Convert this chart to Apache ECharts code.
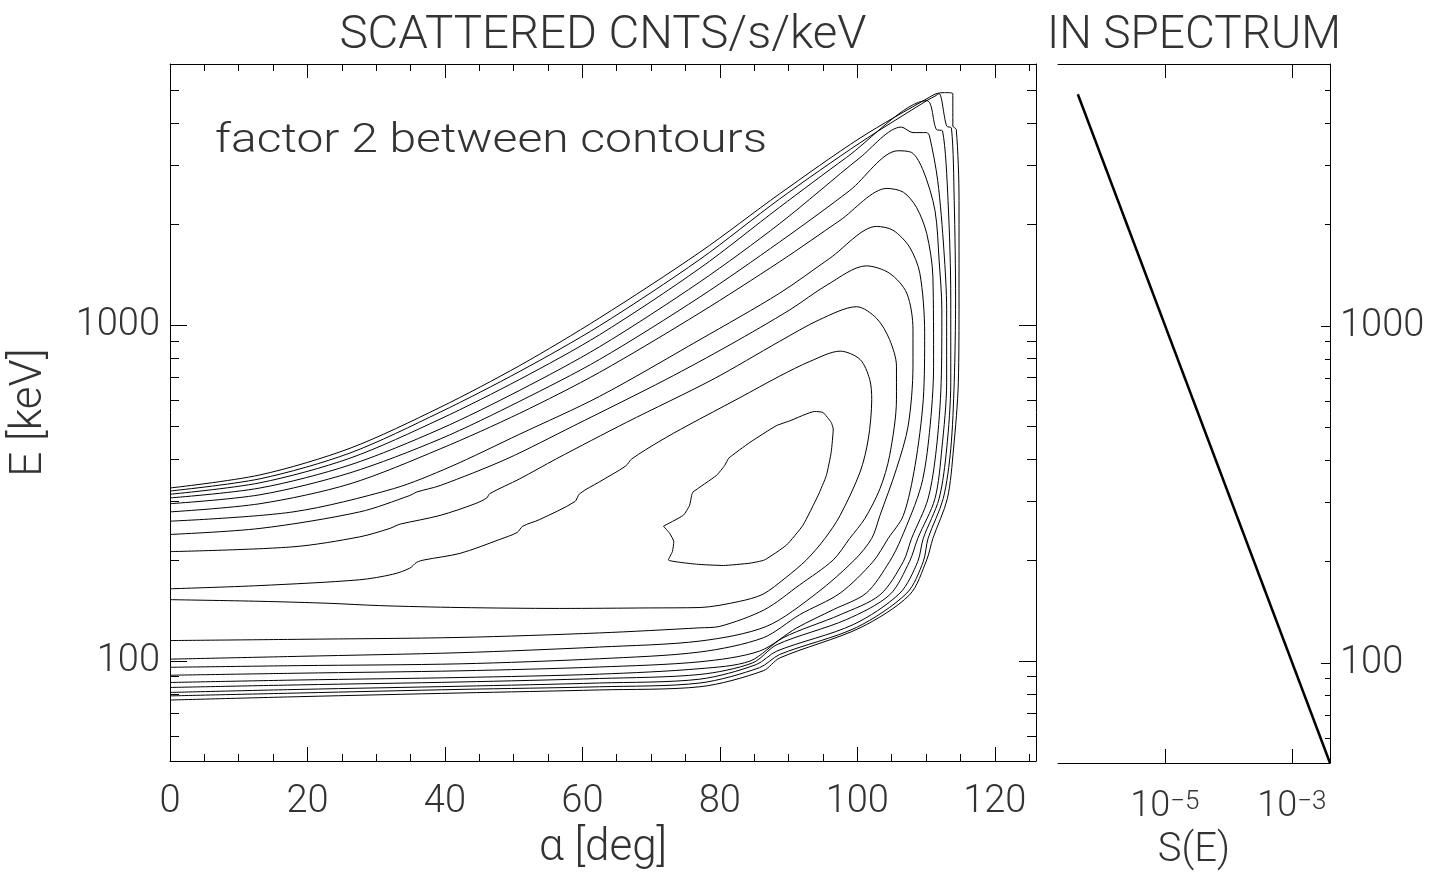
<!DOCTYPE html>
<html>
<head>
<meta charset="utf-8">
<script src="https://cdn.jsdelivr.net/npm/echarts@6/dist/echarts.min.js"></script>
<style>html,body{margin:0;padding:0;background:#fff}#c{width:1449px;height:876px}</style>
</head>
<body>
<div id="c"></div>
<script>
// ---- tick values ----
const alphaTicks = [0, 20, 40, 60, 80, 100, 120];
const alphaMinorTicks = [5,10,15,25,30,35,45,50,55,65,70,75,85,90,95,105,110,115,125];
const eTicks = [100, 1000];
const eMinorTicks = [60,70,80,90,200,300,400,500,600,700,800,900,2000,3000,4000,5000];
const sTicks = [1e-5, 1e-3];

// ---- axis ranges ----
const alphaRange = [0, 126];
const eRange = [50.5, 6000];
const sRange = [2.07e-7, 4.0e-3];

// ---- contours: [alpha (deg), E (keV)] ----
const contour1 = [[71.8,252.6],[74.7,272.3],[75.6,291.4],[75.9,312],[76.1,319.2],[79.5,357.5],[80.7,382.7],[81.3,402.5],[84.4,448.8],[88.2,502.6],[90.2,520],[93.8,554.4],[95.0,550.6],[96.2,514.4],[96.5,491.4],[96.2,419.2],[95.5,357.5],[94.3,312],[92.1,254.4],[89.7,221.9],[86.5,200.4],[84.4,196],[80.5,192.9],[76.6,194.6],[72.5,200.4],[73.1,212.2],[73.3,227.1],[72.7,240.4],[71.8,252.6]];
const contour2 = [[0,164.4],[13.1,168.1],[27.6,174.9],[32.4,181.6],[34.9,189.4],[35.9,197.2],[37.1,200.6],[42.2,209.6],[48.0,230.7],[50.5,241.9],[51.3,252.3],[53.8,264.4],[58.9,298.8],[59.6,315.4],[62.5,342.4],[66.3,381.5],[67.2,400.6],[71.3,452.8],[75.2,502.1],[82.9,609.1],[88.7,706.3],[93.1,781.2],[97.5,838.2],[100.4,792],[101.8,691],[102.1,603],[101.6,459],[100.4,365.8],[97.5,271.9],[95.3,232.3],[92.6,200.4],[89.5,176.9],[86.3,158.5],[82.9,150.9],[77.1,144.6],[69.8,144.2],[56.7,143.7],[42.2,144.6],[30.5,146.5],[23.3,148.8],[13.1,150.9],[0,152.6]];
const contour3 = [[0,212.1],[17.9,219.2],[27.6,234.7],[32.0,248.7],[32.9,253.5],[33.5,256.2],[39.3,271.9],[44.4,294.6],[46.1,306.5],[46.5,315.4],[50.9,349.5],[56.2,400.6],[66.4,514.3],[79.0,691],[88.7,896.5],[94.5,1040],[99.9,1136.7],[102.8,1050],[104.7,907],[105.7,755.9],[105.7,603],[104.7,409.3],[103.3,326.5],[101.1,266.2],[98.9,232.3],[96.5,200.4],[91.6,168.8],[86.5,142.5],[80.0,127.1],[77.1,125.8],[62.5,121.5],[42.2,117.8],[18.9,116.3],[0,115.3]];
const contour4 = [[0,238.6],[13.1,248.7],[27.6,278.5],[34.9,311.6],[35.9,319.2],[39.3,333.6],[49.0,400.6],[58.7,502.1],[72.2,691],[81.5,876.2],[90.2,1113],[95.6,1319.6],[101.3,1504],[104.7,1429],[107.2,1247],[108.1,971],[108.1,755.9],[107.4,502.1],[105.7,374.2],[103.3,271.9],[102.1,232.3],[99.6,200.4],[94.1,159.6],[86.8,127.1],[77.1,114.9],[62.5,110.3],[42.2,106.1],[18.9,103.5],[0,101.5]];
const contour5 = [[0,261.3],[17.9,278.5],[32.5,326.5],[40.7,378.8],[50.9,474.7],[62.5,614.8],[77.1,907],[88.7,1247],[96.0,1584],[102.8,1971],[105.2,1920],[107.6,1711],[109.1,1429],[109.8,951.2],[109.6,603],[108.4,382.3],[106.7,271.9],[104.5,232.3],[102.3,198.2],[97.5,159.6],[91.6,137.6],[86.3,117.5],[77.1,106.6],[62.5,101.8],[42.2,98.3],[18.9,97.1],[0,96.0]];
const contour6 = [[0,278.5],[13.1,294.6],[26.2,337.6],[39.3,428.8],[50.9,547.9],[62.5,724.9],[77.1,1090.3],[88.7,1547],[97.5,2055],[104.3,2557],[106.7,2492],[108.6,2248],[110.1,1877],[111.0,1395],[111.1,755.9],[110.5,480.4],[109.3,333.6],[106.4,232.3],[104.7,198.2],[101.3,159.6],[96.5,142.5],[91.2,125.8],[85.8,107.3],[77.1,99.7],[62.5,96.2],[42.2,93.7],[18.9,92.2],[0,90.9]];
const contour7 = [[0,294.6],[13.1,313.2],[26.2,364],[39.3,459],[50.9,594.8],[62.5,792],[77.1,1215.3],[88.7,1772],[98.9,2521],[105.9,3310],[107.9,3272],[109.6,2888],[111.3,2200],[111.9,1565],[112.3,1113],[112.2,675.5],[111.5,428.8],[110.3,305],[107.9,232.3],[106.7,198.2],[103.3,157.7],[97.5,137.6],[89.2,117.5],[84.4,100.2],[77.1,95.1],[62.5,91.6],[42.2,89.5],[18.9,88.0],[0,86.5]];
const contour8 = [[0,306.5],[13.1,328.1],[26.2,384.3],[39.3,491.4],[50.9,641.1],[62.5,863.8],[77.1,1347.4],[88.7,2009],[100.4,3159],[106.4,3894],[108.1,3749],[110.1,3749],[110.5,3664],[111.7,2698],[112.6,1675],[113.0,1113],[113.0,676.9],[112.3,428.8],[111.3,305],[108.8,232.3],[107.6,198.2],[104.7,157.7],[98.4,133.1],[88.3,112.1],[84.8,99.0],[77.1,91.4],[62.5,88.9],[42.2,86.8],[18.9,85.1],[0,83.6]];
const contour9 = [[0,314.3],[13.1,340],[26.2,402.6],[39.3,526.1],[50.9,691],[62.5,938],[77.1,1480],[88.7,2248],[98.4,3159],[110.1,4667],[111.5,3831],[112.4,3793],[113.2,2355],[113.6,1191],[113.6,676.9],[113.0,428.8],[111.9,305],[109.6,232.3],[108.8,198.2],[106.2,159.6],[99.4,128.6],[88.3,107.3],[85.3,97.8],[77.1,88.5],[62.5,86.2],[42.2,84.3],[18.9,82.5],[0,80.8]];
const contour10 = [[0,321.4],[13.1,349.5],[26.2,417.1],[39.3,551.7],[50.9,729.9],[62.5,997.6],[77.1,1572.5],[88.7,2379],[100.4,3496],[110.3,4694],[111.3,4813],[111.9,4897],[113.0,3922],[113.7,3867],[114.1,2355],[114.3,1191],[114.1,676.9],[113.6,428.8],[112.5,305],[110.3,232.3],[109.6,198.2],[107.2,159.6],[99.9,126.2],[88.7,104.8],[85.8,95.8],[77.1,86.2],[62.5,84.0],[42.2,82.5],[18.9,80.5],[0,78.9]];
const contour11 = [[0,328.1],[13.1,358.9],[26.2,430.9],[39.3,570.2],[50.9,759.7],[62.5,1052.5],[77.1,1652],[88.7,2464.5],[100.4,3612],[110.5,4779],[111.6,4904],[112.7,4931],[113.9,4897],[113.9,3922],[114.4,3831],[114.8,2355],[114.8,1191],[114.7,676.9],[114.0,428.8],[113.1,305],[111.0,232.3],[110.1,200.4],[107.6,157.7],[100.4,125.8],[88.7,102.3],[86.3,93.7],[77.1,84.0],[62.5,82.2],[42.2,80.5],[18.9,78.5],[0,76.7]];
const contours = [contour1, contour2, contour3, contour4, contour5, contour6, contour7, contour8, contour9, contour10, contour11];

// ---- spectrum S(E) ----
const specE = [50.5, 4880];
const specS = [4.0e-3, 4.25e-7];

const L = Math.log10;
const FONT = 'Roboto';
const TXT = '#333';

const yMin = L(eRange[0]), yMax = L(eRange[1]);
const sMin = L(sRange[0]), sMax = L(sRange[1]);

function xAx(grid, pos, ticks, len, labels, line, min, max, extra) {
  return Object.assign({
    type: 'value', gridIndex: grid, position: pos, min: min, max: max,
    axisLine: { show: line, onZero: false, lineStyle: { color: '#000', width: 1 } },
    axisTick: { show: true, inside: true, length: len, customValues: ticks, lineStyle: { color: '#000', width: 1 } },
    axisLabel: { show: labels, customValues: ticks, color: TXT, fontFamily: FONT, fontWeight: 300, fontSize: 38, margin: 22 },
    splitLine: { show: false }, minorTick: { show: false }
  }, extra || {});
}
function yAx(grid, pos, ticks, len, labels, line, extra) {
  return Object.assign({
    type: 'value', gridIndex: grid, position: pos, min: yMin, max: yMax,
    axisLine: { show: line, onZero: false, lineStyle: { color: '#000', width: 1 } },
    axisTick: { show: true, inside: true, length: len, customValues: ticks, lineStyle: { color: '#000', width: 1 } },
    axisLabel: { show: labels, customValues: ticks, color: TXT, fontFamily: FONT, fontWeight: 300, fontSize: 38, margin: 10,
      formatter: v => String(Math.round(Math.pow(10, v))) },
    splitLine: { show: false }
  }, extra || {});
}

const eT = eTicks.map(L), eMT = eMinorTicks.map(L), sT = sTicks.map(L);
const nameStyle = { color: TXT, fontFamily: FONT, fontWeight: 300, fontSize: 44 };

const option = {
  animation: false,
  backgroundColor: '#fff',
  grid: [
    { left: 170, top: 64, width: 866, height: 699 },
    { left: 1058, top: 64, width: 272, height: 699 }
  ],
  xAxis: [
    xAx(0, 'bottom', alphaTicks, 14, true, true, alphaRange[0], alphaRange[1], {
      name: 'α [deg]', nameLocation: 'middle', nameGap: 66, nameTextStyle: nameStyle }),
    xAx(0, 'bottom', alphaMinorTicks, 7, false, false, alphaRange[0], alphaRange[1]),
    xAx(0, 'top', alphaTicks, 14, false, true, alphaRange[0], alphaRange[1]),
    xAx(0, 'top', alphaMinorTicks, 7, false, false, alphaRange[0], alphaRange[1]),
    xAx(1, 'bottom', sT, 14, true, true, sMin, sMax, {
      name: 'S(E)', nameLocation: 'middle', nameGap: 68, nameTextStyle: { color: TXT, fontFamily: FONT, fontWeight: 300, fontSize: 40 },
      axisLabel: { show: true, customValues: sT, margin: 26,
        formatter: v => '{b|10}{s|' + (v < 0 ? '\u2212' : '') + Math.abs(Math.round(v)) + '}',
        rich: {
          b: { color: TXT, fontFamily: FONT, fontWeight: 300, fontSize: 36, verticalAlign: 'top', lineHeight: 40 },
          s: { color: TXT, fontFamily: FONT, fontWeight: 300, fontSize: 26, verticalAlign: 'top', lineHeight: 40 }
        } } }),
    xAx(1, 'top', sT, 14, false, true, sMin, sMax)
  ],
  yAxis: [
    yAx(0, 'left', eT, 17, true, true, {
      name: 'E [keV]', nameLocation: 'middle', nameGap: 118, nameRotate: 90, nameTextStyle: nameStyle }),
    yAx(0, 'left', eMT, 9, false, false),
    yAx(0, 'right', eT, 17, false, true),
    yAx(0, 'right', eMT, 9, false, false),
    yAx(1, 'right', eT, 9, true, true),
    yAx(1, 'right', eMT, 5, false, false)
  ],
  graphic: [
    { type: 'text', x: 603, y: 13, scaleX: 1.03, style: { text: 'SCATTERED CNTS/s/keV', fill: TXT, font: '300 46px Roboto', textAlign: 'center', textVerticalAlign: 'top' } },
    { type: 'text', x: 1194, y: 13, scaleX: 1.0, style: { text: 'IN SPECTRUM', fill: TXT, font: '300 46px Roboto', textAlign: 'center', textVerticalAlign: 'top' } },
    { type: 'text', x: 215, y: 122, scaleX: 1.2, style: { text: 'factor 2 between contours', fill: TXT, font: '300 40px Roboto', textAlign: 'left', textVerticalAlign: 'top' } }
  ],
  series: contours.map((c, i) => ({
    name: 'contour' + (i + 1), type: 'line', xAxisIndex: 0, yAxisIndex: 0,
    showSymbol: false, symbol: 'none', clip: true, silent: true, smooth: i === 0 ? 0.15 : 0.3,
    lineStyle: { color: '#000', width: 1 },
    data: c.map(p => [p[0], L(p[1])])
  })).concat([{
    name: 'S(E)', type: 'line', xAxisIndex: 4, yAxisIndex: 4,
    showSymbol: false, symbol: 'none', clip: false, silent: true,
    lineStyle: { color: '#000', width: 2.5 },
    data: specE.map((e, i) => [L(specS[i]), L(e)])
  }])
};

const chart = echarts.init(document.getElementById('c'), null, { renderer: 'canvas' });
chart.setOption(option);
</script>
</body>
</html>
